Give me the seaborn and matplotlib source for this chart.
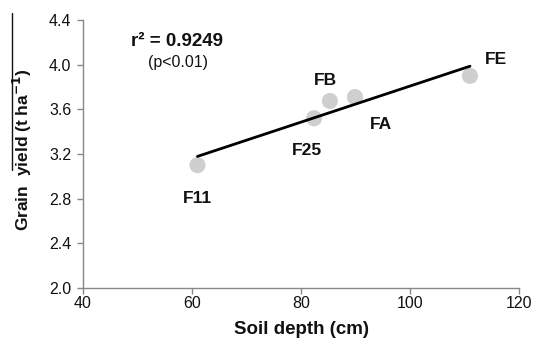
import matplotlib
matplotlib.use("Agg")
import matplotlib.pyplot as plt
from matplotlib.lines import Line2D
import seaborn as sns
import pandas as pd

# Data
sites = ["F11", "F25", "FB", "FA", "FE"]
soil_depth = [61.0, 82.4, 85.3, 89.9, 111.0]
grain_yield = [3.10, 3.52, 3.675, 3.71, 3.90]
x_ticks = [40, 60, 80, 100, 120]
y_ticks = [2.0, 2.4, 2.8, 3.2, 3.6, 4.0, 4.4]
r2_text = "r² = 0.9249"
p_text = "(p<0.01)"

df = pd.DataFrame({"site": sites, "depth": soil_depth, "yield": grain_yield})

sns.set_theme(style="ticks")
plt.rcParams["font.family"] = ["Liberation Sans", "DejaVu Sans"]

fig = plt.figure(figsize=(5.38, 3.42), dpi=100)
ax = fig.add_axes([0.1543, 0.1579, 0.8104, 0.7836])

sns.scatterplot(data=df, x="depth", y="yield", ax=ax, s=135, color="#cfcfcf",
                edgecolor="none", zorder=2)
sns.regplot(data=df, x="depth", y="yield", ax=ax, scatter=False, ci=None,
            line_kws={"color": "black", "lw": 2, "zorder": 3})

# point labels (offsets in points)
offsets = {"F11": (0, -24), "F25": (-5.5, -23.5), "FB": (-3, 14.5), "FA": (19, -20), "FE": (19, 12)}
for s, x, y in zip(sites, soil_depth, grain_yield):
    ax.annotate(s, (x, y), xytext=offsets[s], textcoords="offset points",
                ha="center", va="center", fontsize=12.5, fontweight="bold", color="#111111")

ax.text(177 / 538, 1 - 42 / 342, r2_text, transform=fig.transFigure, ha="center", va="center",
        fontsize=13.5, fontweight="bold", color="#111111")
ax.text(178 / 538, 1 - 63 / 342, p_text, transform=fig.transFigure, ha="center", va="center",
        fontsize=11.5, color="#111111")

ax.set_xlim(40, 120)
ax.set_ylim(2.0, 4.4)
ax.set_xticks(x_ticks)
ax.set_yticks(y_ticks)
ax.set_xticklabels([str(t) for t in x_ticks])
ax.set_yticklabels([f"{t:.1f}" for t in y_ticks])
ax.tick_params(axis="both", labelsize=11.5, colors="#111111", length=4.5, width=1,
               color="#888888", direction="out")
ax.tick_params(axis="x", pad=1)
ax.tick_params(axis="y", pad=4)

for sp in ["top", "right"]:
    ax.spines[sp].set_visible(False)
for sp in ["left", "bottom"]:
    ax.spines[sp].set_color("#888888")
    ax.spines[sp].set_linewidth(1)

ax.set_xlabel("Soil depth (cm)", fontsize=13.5, fontweight="bold", color="#111111")
ax.xaxis.set_label_coords(0.5, -(330 - 288) / 268)
ax.xaxis.label.set_va("center")
ax.set_ylabel("Grain  yield (t ha$^{\\mathbf{-1}}$)", fontsize=12.5, fontweight="bold", color="#111111")
ax.yaxis.set_label_coords(-(83 - 34) / 436, (288 - 150) / 268)

fig.add_artist(Line2D([12 / 538, 12 / 538], [1 - 13 / 342, 1 - 170 / 342],
                      transform=fig.transFigure, color="#111111", lw=1))

fig.savefig("out.png", dpi=100)
